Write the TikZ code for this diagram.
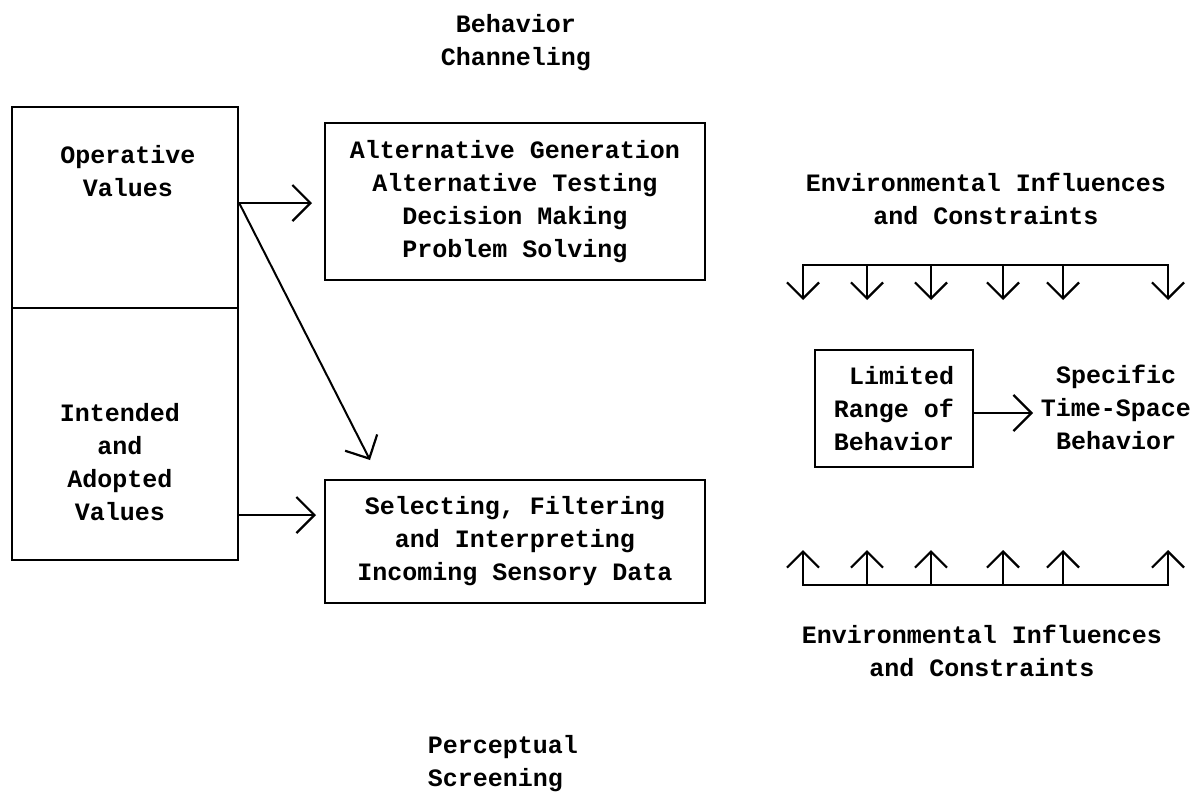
\documentclass[tikz,border=0pt]{standalone}
\usepackage{fontspec}
\newfontfamily\tw{Liberation Mono}
\usetikzlibrary{arrows.meta}
\begin{document}
\begin{tikzpicture}[x=1pt,y=-1pt,
  box/.style={draw, line width=2.4pt, inner sep=0pt},
  txt/.style={font=\tw\bfseries\fontsize{25}{33}\selectfont, align=center, inner sep=0pt},
  arr/.style={line width=2pt, line cap=round, -{Straight Barb[length=18pt,width=36pt,line width=2.2pt]}},
  arrs/.style={line width=2.2pt, -{Straight Barb[length=16pt,width=32pt,line width=2.2pt]}},
  ln/.style={line width=2.6pt, line cap=rect}]
\useasboundingbox (0,0) rectangle (1200,796);

% titles
\node[txt] (bc) at (516,43) {Behavior\\Channeling};
\node[txt, align=left] (ps) at (503,764) {Perceptual\\Screening};

% left value boxes
\node[box, minimum width=226pt, minimum height=201pt] (op) at (125,207.5) {};
\node[box, minimum width=226pt, minimum height=252pt] (ia) at (125,434) {};
\node[txt] (opt) at (128,171) {Operative\\Values};
\node[txt] (iat) at (120,462) {Intended\\and\\Adopted\\Values};

% middle boxes
\node[box, txt, minimum width=380pt, minimum height=157pt] (ab) at (515,201.5)
  {Alternative Generation\\Alternative Testing\\Decision Making\\Problem Solving};
\node[box, txt, minimum width=380pt, minimum height=123pt] (sf) at (515,541.5)
  {Selecting, Filtering\\and Interpreting\\Incoming Sensory Data};

% right part
\node[box, txt, align=right, minimum width=158pt, minimum height=117pt] (lr) at (894,408.5)
  {Limited\\Range of\\Behavior};
\node[txt] (st) at (1116,407) {Specific\\Time-Space\\Behavior};
\node[txt] (eit) at (986,199) {Environmental Influences\\and Constraints};
\node[txt] (eib) at (982,651) {Environmental Influences\\and Constraints};

% connectors
\coordinate (a1) at (312,203);
\coordinate (a2) at (370,460);
\coordinate (a3) at (316,515);
\coordinate (a4) at (1033,413);
\draw[arr] (op.east |- a1) -- (a1);
\draw[arr] (op.east |- a1) -- (a2);
\draw[arr] (ia.east |- a3) -- (a3);
\draw[arr] (lr.east |- a4) -- (a4);

% top bracket
\foreach \i/\x in {1/803,2/867,3/931,4/1003,5/1063,6/1168} {
  \coordinate (ts\i) at (\x,265);
  \coordinate (tt\i) at (\x,300);
  \coordinate (bs\i) at (\x,585);
  \coordinate (bt\i) at (\x,550);
}
\draw[ln] (ts1) -- (ts6);
\draw[ln] (bs1) -- (bs6);
\foreach \i in {1,...,6} {
  \draw[arrs] (ts\i) -- (tt\i);
  \draw[arrs] (bs\i) -- (bt\i);
}
\end{tikzpicture}
\end{document}
